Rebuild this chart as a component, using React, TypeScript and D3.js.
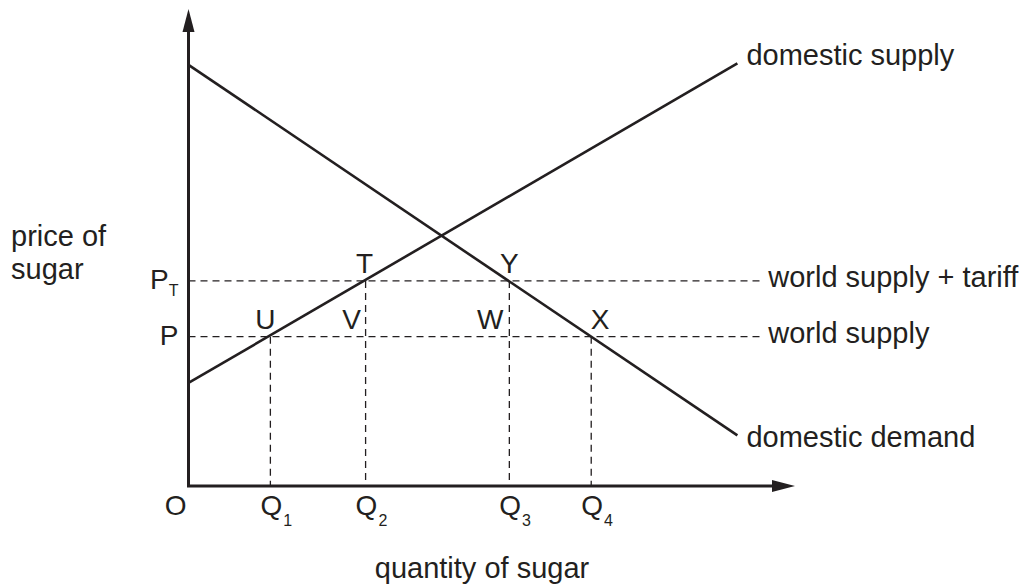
import * as d3 from 'd3'

// lines are given in (quantity, price) units, 0..100 on both axes
const supplyPoints: [number, number][] = [[0, 21.6], [90.5, 88.6]]
const demandPoints: [number, number][] = [[0, 88.3], [90.5, 10.6]]

const worldPrices = [43.0, 31.3]
const priceNames = ['P', 'P']
const priceSubs = ['T', '']
const worldLabels = ['world supply + tariff', 'world supply']
const worldLineEnd = 94.6

const quantities = [13.5, 29.2, 52.9, 66.4]
const quantitySubs = ['1', '2', '3', '4']
const quantityDropFrom = [31.3, 43.0, 43.0, 31.3]

const pointNames = ['T', 'Y', 'U', 'V', 'W', 'X']
const pointQ = [29.2, 52.9, 13.5, 29.2, 52.9, 66.4]
const pointP = [43.0, 43.0, 31.3, 31.3, 31.3, 31.3]
const pointDx = [-1, 0, -5, -14, -19, 9]

const W = 1025
const H = 587
const ink = '#231f20'
const font = '"Liberation Sans", Arial, Helvetica, sans-serif'

export default function App() {
  const x = d3.scaleLinear().domain([0, 100]).range([188.5, 795])
  const y = d3.scaleLinear().domain([0, 100]).range([486, 9])

  const line = d3.line<[number, number]>()
    .x(d => x(d[0]))
    .y(d => y(d[1]))

  const x0 = x(0)
  const y0 = y(0)
  const yTop = y(100)
  const xEnd = x(100)

  const supplyEnd = supplyPoints[supplyPoints.length - 1]
  const demandEnd = demandPoints[demandPoints.length - 1]

  return (
    <svg width={W} height={H} viewBox={`0 0 ${W} ${H}`}
      style={{ position: 'absolute', left: 0, top: 0, background: '#fff' }}
      fontFamily={font} fill={ink}>

      {/* dashed guides */}
      {worldPrices.map((p, i) => (
        <line key={'h' + i} x1={x0} x2={x(worldLineEnd)} y1={y(p)} y2={y(p)}
          stroke={ink} strokeWidth={1.3} strokeDasharray="7 5" />
      ))}
      {quantities.map((q, i) => (
        <line key={'v' + i} x1={x(q)} x2={x(q)} y1={y(quantityDropFrom[i])} y2={y0}
          stroke={ink} strokeWidth={1.3} strokeDasharray="7 5" />
      ))}

      {/* supply & demand */}
      <path d={line(supplyPoints) || ''} fill="none" stroke={ink} strokeWidth={2.6} />
      <path d={line(demandPoints) || ''} fill="none" stroke={ink} strokeWidth={2.6} />

      {/* axes */}
      <path d={`M${x0},${yTop + 22}V${y0}H${xEnd - 22}`} fill="none" stroke={ink} strokeWidth={3} />
      <path d={`M${x0},${yTop}L${x0 - 6},${yTop + 23}L${x0 + 6},${yTop + 23}Z`} fill={ink} />
      <path d={`M${xEnd},${y0}L${xEnd - 23},${y0 - 6}L${xEnd - 23},${y0 + 6}Z`} fill={ink} />

      {/* curve labels */}
      <text x={x(supplyEnd[0]) + 9} y={y(supplyEnd[1]) + 1.5} fontSize={29}>domestic supply</text>
      <text x={x(demandEnd[0]) + 9} y={y(demandEnd[1]) + 11.5} fontSize={29}>domestic demand</text>

      {/* world price labels */}
      {worldPrices.map((p, i) => (
        <text key={'wl' + i} x={x(worldLineEnd) + 6} y={y(p) + 6} fontSize={29}>{worldLabels[i]}</text>
      ))}
      {worldPrices.map((p, i) => (
        <text key={'pl' + i} x={x0 - 10} y={y(p) + 8} fontSize={28} textAnchor="end">
          {priceNames[i]}
          {priceSubs[i] && <tspan fontSize={16} dy={7}>{priceSubs[i]}</tspan>}
        </text>
      ))}

      {/* point labels */}
      {pointNames.map((n, i) => (
        <text key={'pt' + n} x={x(pointQ[i]) + pointDx[i]} y={y(pointP[i]) - 7.5}
          fontSize={28} textAnchor="middle">{n}</text>
      ))}

      {/* quantity labels */}
      <text x={x0 - 2} y={y0 + 29} fontSize={28} textAnchor="end">O</text>
      {quantities.map((q, i) => (
        <text key={'q' + i} x={x(q) - 10} y={y0 + 29} fontSize={28}>
          Q<tspan fontSize={16} dx={1} dy={11}>{quantitySubs[i]}</tspan>
        </text>
      ))}

      {/* axis titles */}
      <text x={482} y={578} fontSize={29} textAnchor="middle">quantity of sugar</text>
      <text x={11} y={246} fontSize={29}>price of</text>
      <text x={11} y={279} fontSize={29}>sugar</text>
    </svg>
  )
}
